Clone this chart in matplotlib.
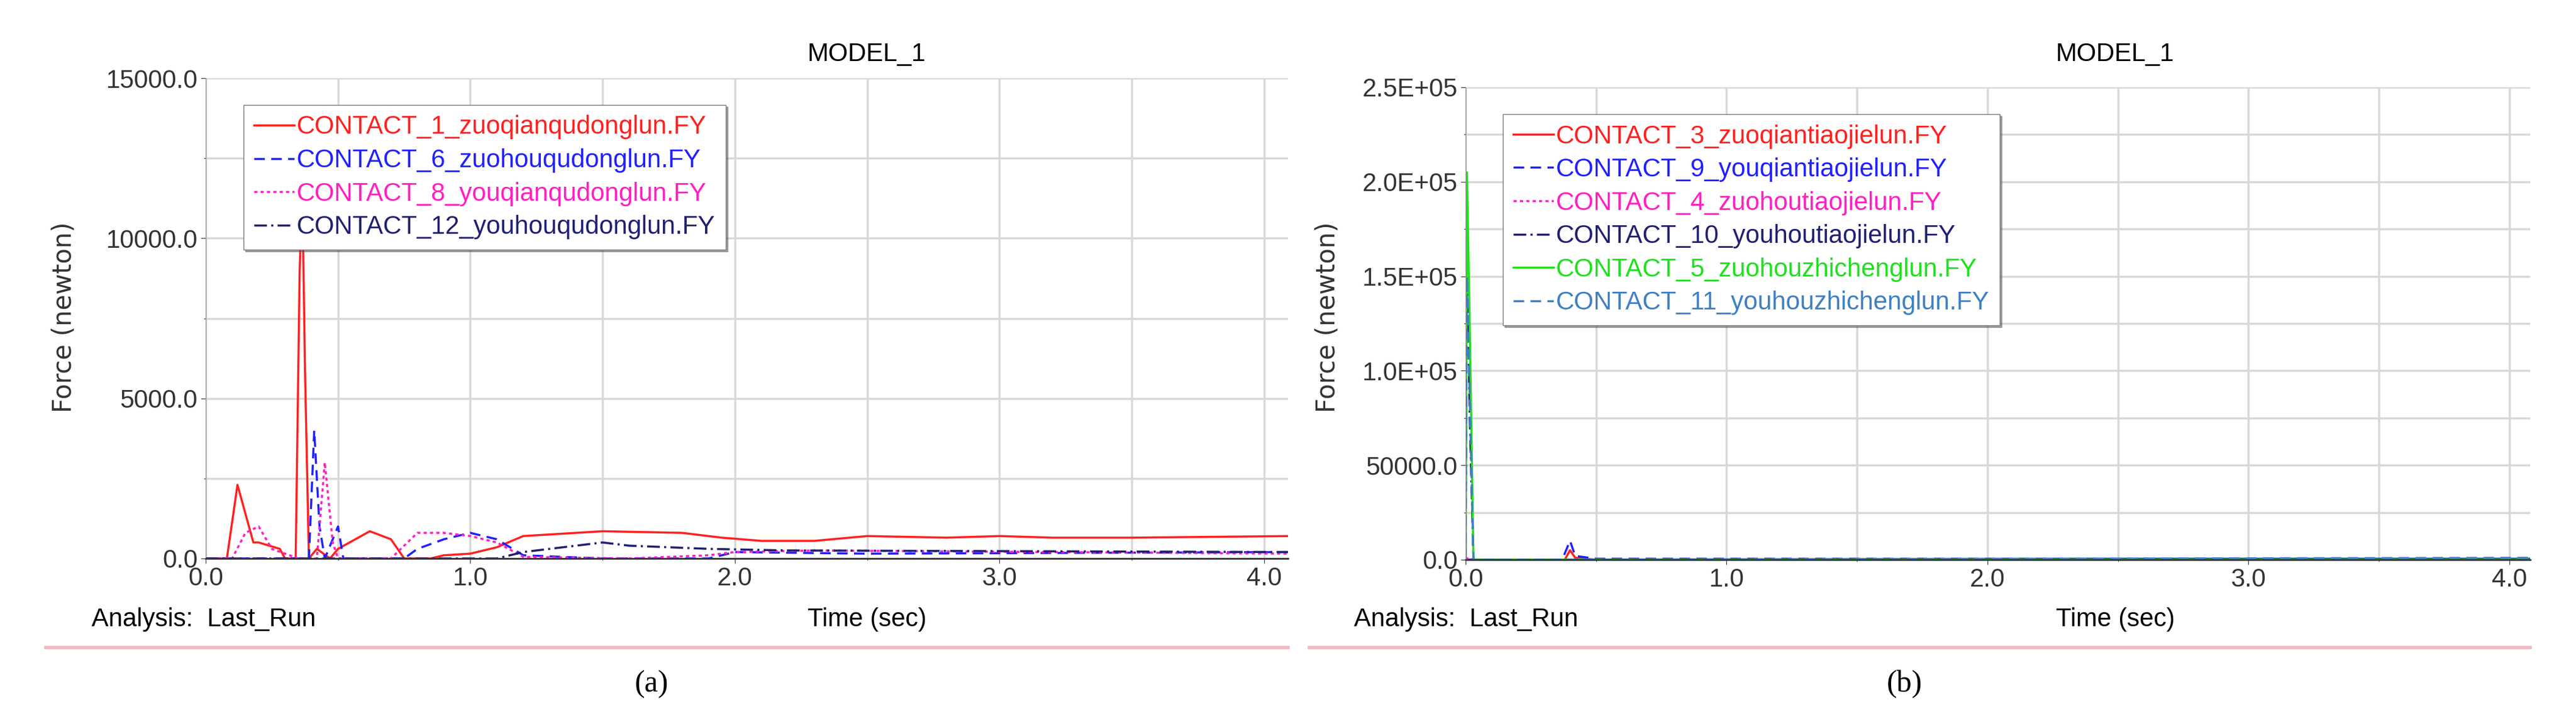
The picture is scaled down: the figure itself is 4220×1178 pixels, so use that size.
import matplotlib.pyplot as plt

plt.rcParams['font.family'] = ['Liberation Sans', 'DejaVu Sans']

W, H = 4220, 1178

# panel (a)
a_t1 = [0, 0.08, 0.12, 0.18, 0.2, 0.28, 0.3, 0.34, 0.355, 0.365, 0.375, 0.39, 0.42, 0.47, 0.5, 0.62,
        0.7, 0.75, 0.85, 0.9, 1.0, 1.1, 1.2, 1.5, 1.8, 1.95, 2.1, 2.3, 2.5, 2.8, 3.0, 3.2, 3.5, 4.1]
a_c1 = [0, 0, 2300, 500, 500, 300, 0, 0, 9000, 11500, 6000, 0, 300, 0, 300, 850,
        600, 0, 0, 100, 150, 350, 700, 850, 800, 650, 550, 550, 700, 650, 700, 650, 650, 700]
a_t6 = [0, 0.39, 0.41, 0.43, 0.45, 0.5, 0.52, 0.75, 0.8, 0.9, 1.0, 1.1, 1.2, 1.5, 1.9, 2.0, 2.5, 4.1]
a_c6 = [0, 0, 4000, 1000, 0, 1000, 0, 0, 300, 600, 800, 600, 100, 0, 0, 200, 150, 200]
a_t8 = [0, 0.1, 0.15, 0.2, 0.25, 0.35, 0.42, 0.45, 0.48, 0.5, 0.7, 0.8, 0.9, 1.0, 1.1, 1.2, 1.6, 1.9, 2.0, 2.3, 4.1]
a_c8 = [0, 0, 800, 1000, 300, 0, 0, 3000, 500, 0, 0, 800, 800, 700, 500, 50, 0, 100, 200, 250, 150]
a_t12 = [0, 1.1, 1.2, 1.4, 1.5, 1.6, 1.9, 2.2, 4.1]
a_c12 = [0, 0, 200, 400, 500, 400, 300, 250, 200]

# panel (b)
b_t3 = [0, 0.38, 0.4, 0.42, 0.5, 4.1]
b_c3 = [0, 0, 5000, 1000, 0, 0]
b_t9 = [0, 0.37, 0.4, 0.42, 0.5, 4.1]
b_c9 = [0, 0, 10000, 2000, 500, 500]
b_t4 = [0, 0.01, 0.03, 4.1]
b_c4 = [0, 1000, 0, 0]
b_t10 = [0, 0.005, 0.015, 0.03, 4.1]
b_c10 = [3000, 175000, 80000, 0, 0]
b_t5 = [0, 0.005, 0.015, 0.03, 4.1]
b_c5 = [0, 205000, 130000, 0, 0]
b_t11 = [0, 0.005, 0.02, 0.03, 4.1]
b_c11 = [0, 150000, 60000, 0, 1000]

fig = plt.figure(figsize=(W / 100, H / 100), dpi=100)


def make_axes(left, right, top, bottom):
    return fig.add_axes([left / W, 1 - bottom / H, (right - left) / W, (bottom - top) / H])


def style(ax, xmax, ymax, yticks, ylabels, title_x, label_x, ylab_x):
    ax.set_xlim(0, xmax)
    ax.set_ylim(0, ymax)
    ax.set_xticks([0, 1, 2, 3, 4])
    ax.set_xticks([0.5, 1.5, 2.5, 3.5], minor=True)
    ax.set_xticklabels(['0.0', '1.0', '2.0', '3.0', '4.0'], fontsize=30)
    ax.set_yticks(yticks)
    ax.set_yticklabels(ylabels, fontsize=30)
    ax.set_yticks([(yticks[i] + yticks[i + 1]) / 2 for i in range(len(yticks) - 1)], minor=True)
    ax.grid(True, which='both', color='#d8d8d8', lw=2.5)
    ax.set_axisbelow(True)
    for s in ['top', 'right']:
        ax.spines[s].set_visible(False)
    ax.spines['left'].set_color('#888888')
    ax.spines['bottom'].set_color('#333333')
    ax.spines['bottom'].set_linewidth(2)
    ax.tick_params(length=6, colors='#333333')
    fig.text(title_x / W, 1 - 89 / H, 'MODEL_1', fontsize=30, ha='center', va='center')
    fig.text(label_x / W, 1 - 1015 / H, 'Analysis:  Last_Run', fontsize=30, va='center')
    fig.text(title_x / W, 1 - 1015 / H, 'Time (sec)', fontsize=30, ha='center', va='center')
    fig.text(ylab_x / W, 1 - 520 / H, 'Force (newton)', fontsize=30, rotation=90,
             ha='center', va='center', family='DejaVu Sans', color='#333333')


ax1 = make_axes(337, 2110, 128, 915)
ax1.plot(a_t1, a_c1, color='#ff2020', lw=2.5, label='CONTACT_1_zuoqianqudonglun.FY')
ax1.plot(a_t6, a_c6, color='#2020ff', lw=2.5, ls=(0, (5, 3)), label='CONTACT_6_zuohouqudonglun.FY')
ax1.plot(a_t8, a_c8, color='#ff20c0', lw=2.5, ls=(0, (1.5, 1.5)), label='CONTACT_8_youqianqudonglun.FY')
ax1.plot(a_t12, a_c12, color='#202070', lw=2.5, ls=(0, (6, 2, 1, 2)), label='CONTACT_12_youhouqudonglun.FY')
style(ax1, 4.09, 15000, [0, 5000, 10000, 15000], ['0.0', '5000.0', '10000.0', '15000.0'], 1420, 150, 105)

ax2 = make_axes(2401, 4145, 143, 917)
ax2.plot(b_t3, b_c3, color='#ff2020', lw=2.5, label='CONTACT_3_zuoqiantiaojielun.FY')
ax2.plot(b_t9, b_c9, color='#2020ff', lw=2.5, ls=(0, (5, 3)), label='CONTACT_9_youqiantiaojielun.FY')
ax2.plot(b_t4, b_c4, color='#ff20c0', lw=2.5, ls=(0, (1.5, 1.5)), label='CONTACT_4_zuohoutiaojielun.FY')
ax2.plot(b_t10, b_c10, color='#202070', lw=2.5, ls=(0, (6, 2, 1, 2)), label='CONTACT_10_youhoutiaojielun.FY')
ax2.plot(b_t5, b_c5, color='#20e020', lw=2.5, label='CONTACT_5_zuohouzhichenglun.FY')
ax2.plot(b_t11, b_c11, color='#4080c0', lw=2.5, ls=(0, (5, 3)), label='CONTACT_11_youhouzhichenglun.FY')
style(ax2, 4.08, 250000, [0, 50000, 100000, 150000, 200000, 250000],
      ['0.0', '50000.0', '1.0E+05', '1.5E+05', '2.0E+05', '2.5E+05'], 3465, 2218, 2175)

for ax, x0, y0 in [(ax1, 378, 151), (ax2, 2441, 166)]:
    leg = ax.legend(loc='upper left', bbox_to_anchor=(x0 / W, 1 - y0 / H), bbox_transform=fig.transFigure,
                    fontsize=30, handlelength=1.6, handletextpad=0.1, labelspacing=0.35,
                    borderpad=0.4, fancybox=False, shadow=True, framealpha=1)
    leg.get_frame().set_edgecolor('#777777')
    for line, text in zip(leg.get_lines(), leg.get_texts()):
        text.set_color(line.get_color())

for x0, x1 in [(75, 2110), (2145, 4145)]:
    fig.add_artist(plt.Line2D([x0 / W, x1 / W], [1 - 1061 / H] * 2, color='#f4b8c0', lw=4))
fig.text(1068 / W, 1 - 1121 / H, '(a)', fontsize=36, ha='center', va='center', family='Liberation Serif')
fig.text(3120 / W, 1 - 1121 / H, '(b)', fontsize=36, ha='center', va='center', family='Liberation Serif')

fig.savefig('out.png', dpi=100)
